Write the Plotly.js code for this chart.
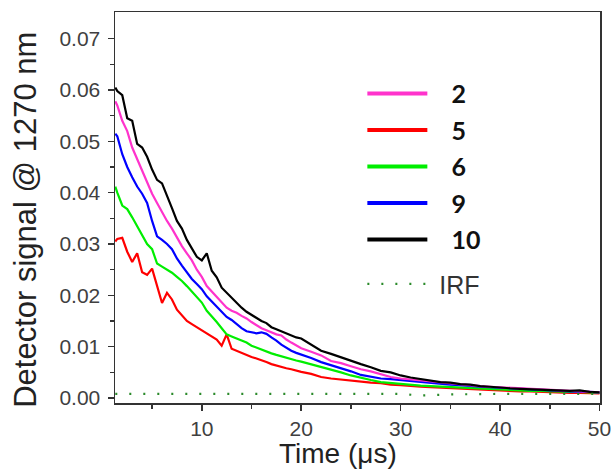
<!DOCTYPE html>
<html>
<head>
<meta charset="utf-8">
<script src="https://cdn.plot.ly/plotly-3.0.1.min.js"></script>
<style>html,body{margin:0;padding:0;background:#fff;}#chart{width:615px;height:475px;}</style>
</head>
<body>
<div id="chart"></div>
<script>
// Time axis (microseconds)
const time = [1.3,1.5,2,2.5,3,3.5,4,4.5,5,5.5,6,6.5,7,7.5,8,8.5,9,9.5,10,10.5,11,11.5,12,12.5,13,13.5,14,14.5,15,15.5,16,16.5,17,17.5,18,18.5,19,19.5,20,
  21,22,23,24,25,26,27,28,29,30,31,32,33,34,35,36,37,38,39,40,41,42,43,44,45,46,47,48,49,50];

const series2 = [0.0578,0.0570,0.0540,0.0520,0.0488,0.0465,0.0442,0.0420,0.0398,0.0380,0.0362,0.0345,0.0330,0.0312,0.0296,0.0282,0.0268,0.0250,0.0236,0.0218,0.0208,0.0196,0.0186,0.0176,0.0170,0.0166,0.0160,0.0155,0.0148,0.0142,0.0136,0.0132,0.0128,0.0124,0.0122,0.0114,0.0108,0.0102,0.0097,
  0.0090,0.0083,0.0072,0.0068,0.0062,0.0056,0.0052,0.0047,0.0041,0.0038,0.0036,0.0034,0.0032,0.0030,0.0028,0.0026,0.0025,0.0023,0.0022,0.0021,0.0019,0.0018,0.0017,0.0016,0.0015,0.0014,0.0013,0.0013,0.0012,0.0011];

const series5 = [0.0305,0.0310,0.0312,0.0285,0.0265,0.0282,0.0245,0.0240,0.0252,0.0220,0.0185,0.0205,0.0192,0.0172,0.0160,0.0150,0.0144,0.0138,0.0132,0.0126,0.0120,0.0114,0.0102,0.0124,0.0096,0.0092,0.0088,0.0083,0.0080,0.0077,0.0074,0.0070,0.0066,0.0063,0.0060,0.0058,0.0056,0.0053,0.0051,
  0.0047,0.0041,0.0038,0.0036,0.0034,0.0031,0.0030,0.0029,0.0026,0.0025,0.0023,0.0022,0.0021,0.0020,0.0019,0.0018,0.0017,0.0016,0.0015,0.0015,0.0014,0.0013,0.0013,0.0012,0.0012,0.0011,0.0010,0.0010,0.0010,0.0009];

const series6 = [0.0412,0.0400,0.0375,0.0368,0.0352,0.0335,0.0318,0.0300,0.0290,0.0262,0.0256,0.0250,0.0244,0.0236,0.0228,0.0218,0.0207,0.0198,0.0186,0.0170,0.0160,0.0148,0.0136,0.0124,0.0120,0.0116,0.0112,0.0108,0.0102,0.0098,0.0094,0.0090,0.0087,0.0084,0.0081,0.0078,0.0075,0.0073,0.0071,
  0.0066,0.0061,0.0056,0.0050,0.0044,0.0039,0.0035,0.0031,0.0029,0.0027,0.0025,0.0024,0.0023,0.0022,0.0021,0.0020,0.0019,0.0018,0.0017,0.0016,0.0015,0.0015,0.0014,0.0014,0.0013,0.0013,0.0012,0.0012,0.0011,0.0010];

const series9 = [0.0515,0.0510,0.0475,0.0450,0.0430,0.0412,0.0398,0.0380,0.0345,0.0315,0.0308,0.0300,0.0290,0.0272,0.0258,0.0245,0.0232,0.0222,0.0212,0.0198,0.0188,0.0178,0.0168,0.0158,0.0152,0.0144,0.0136,0.0130,0.0128,0.0126,0.0128,0.0125,0.0118,0.0112,0.0104,0.0098,0.0092,0.0088,0.0085,
  0.0078,0.0070,0.0064,0.0059,0.0052,0.0045,0.0042,0.0038,0.0037,0.0035,0.0033,0.0031,0.0029,0.0028,0.0026,0.0025,0.0023,0.0022,0.0021,0.0020,0.0018,0.0017,0.0016,0.0016,0.0014,0.0014,0.0013,0.0012,0.0012,0.0011];

const series10 = [0.0605,0.0598,0.0590,0.0545,0.0540,0.0495,0.0488,0.0470,0.0445,0.0425,0.0418,0.0392,0.0370,0.0345,0.0330,0.0308,0.0290,0.0275,0.0268,0.0282,0.0248,0.0235,0.0215,0.0205,0.0196,0.0185,0.0176,0.0168,0.0162,0.0156,0.0150,0.0146,0.0138,0.0134,0.0130,0.0126,0.0122,0.0118,0.0116,
  0.0104,0.0092,0.0086,0.0079,0.0072,0.0066,0.0060,0.0053,0.0050,0.0044,0.0040,0.0037,0.0035,0.0031,0.0030,0.0027,0.0026,0.0023,0.0022,0.0020,0.0019,0.0018,0.0017,0.0016,0.0016,0.0014,0.0014,0.0015,0.0012,0.0011];

const irfTime = [1.3, 10, 20, 30, 32, 35, 40, 45, 50];
const irfValues = [0.0008, 0.0008, 0.0008, 0.0008, 0.0005, 0.0007, 0.0008, 0.0008, 0.0008];

const names = ['2','5','6','9','10'];
const colors = ['#ff33cc','#ff0000','#00ee00','#0000ff','#000000'];
const data = [series2, series5, series6, series9, series10];

const traces = [];
const drawOrder = [1,2,3,0,4];
drawOrder.forEach(i => {
  traces.push({x: time, y: data[i], type:'scatter', mode:'lines', showlegend:false,
    line:{color:colors[i], width:2.2}, hoverinfo:'skip'});
});
traces.push({x: irfTime, y: irfValues, type:'scatter', mode:'lines', showlegend:false,
  line:{color:'#2a8a2a', width:2.2, dash:'2px,12px'}, hoverinfo:'skip'});
// legend entries
const pad = '\u00a0\u00a0\u00a0';
names.forEach((n,i) => {
  traces.push({x:[null], y:[null], type:'scatter', mode:'lines', name:pad+'<b>'+n+'</b>',
    legendgroup:'g'+i, line:{color:colors[i], width:4}});
});
traces.push({x:[null], y:[null], type:'scatter', mode:'lines', legend:'legend2',
  name:'\u00a0IRF', line:{color:'#2a8a2a', width:2.2, dash:'2px,12px'}});

const sans = '"Liberation Sans", Arial, sans-serif';
const axisFont = {family:sans, size:21, color:'#404040'};

const layout = {
  width:615, height:475,
  margin:{l:115, r:15, t:12, b:72},
  paper_bgcolor:'#fff', plot_bgcolor:'#fff',
  showlegend:true,
  legend:{x:0.51, y:0.85, xanchor:'left', yanchor:'top', bgcolor:'rgba(0,0,0,0)',
    font:{family:'Lato, "Open Sans", sans-serif', size:25, color:'#111'},
    traceorder:'grouped', tracegroupgap:1, itemwidth:60},
  legend2:{x:0.51, y:0.363, xanchor:'left', yanchor:'top', bgcolor:'rgba(0,0,0,0)',
    font:{family:sans, size:25, color:'#333'}, itemwidth:60},
  xaxis:{range:[1.27,50.05], tickvals:[10,20,30,40,50], ticks:'outside', ticklen:6, tickwidth:1.5,
    tickcolor:'#333', showline:true, linecolor:'#333', linewidth:1.5, mirror:true,
    showgrid:false, zeroline:false, tickfont:axisFont,
    minor:{tickvals:[5,15,25,35,45], ticks:'outside', ticklen:4, tickwidth:1.5, tickcolor:'#333', showgrid:false}},
  yaxis:{range:[-0.00097,0.0752], tickvals:[0,0.01,0.02,0.03,0.04,0.05,0.06,0.07], tickformat:'.2f',
    ticks:'outside', ticklen:6, tickwidth:1.5, tickcolor:'#333', showline:true, linecolor:'#333', linewidth:1.5, mirror:true,
    showgrid:false, zeroline:false, tickfont:axisFont, ticklabelstandoff:3,
    minor:{tickvals:[0.005,0.015,0.025,0.035,0.045,0.055,0.065], ticks:'outside', ticklen:4, tickwidth:1.5, tickcolor:'#333', showgrid:false}},
  annotations:[
    {text:'Time (μs)', xref:'paper', yref:'paper', x:0.46, y:-0.128, xanchor:'center', yanchor:'middle',
      showarrow:false, font:{family:sans, size:28, color:'#222'}},
    {text:'Detector signal @ 1270 nm', xref:'paper', yref:'paper', x:-0.186, y:0.468, xanchor:'center', yanchor:'middle',
      textangle:-90, showarrow:false, font:{family:sans, size:31, color:'#222'}}
  ]
};

Plotly.newPlot('chart', traces, layout, {staticPlot:true, displayModeBar:false});
</script>
</body>
</html>
